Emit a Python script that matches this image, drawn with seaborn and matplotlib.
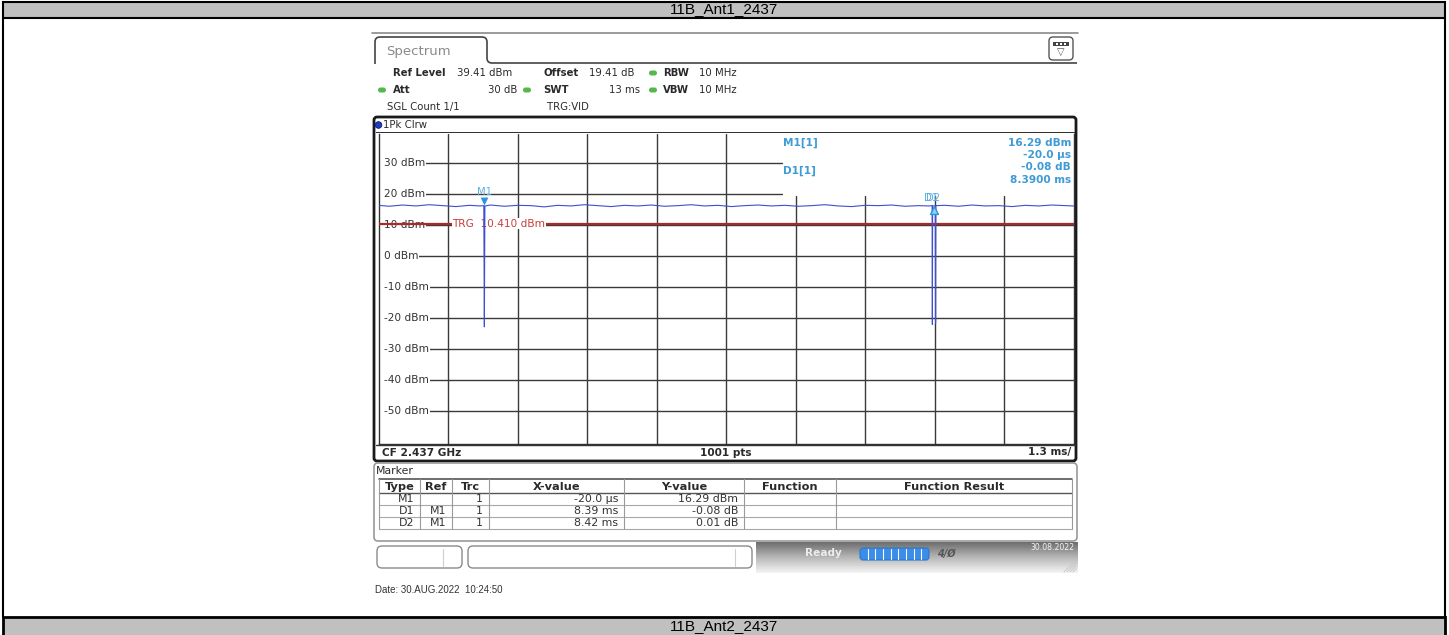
import matplotlib
matplotlib.use("Agg")
import matplotlib.pyplot as plt
import seaborn as sns
import numpy as np
from matplotlib import font_manager
from matplotlib.patches import Rectangle, FancyBboxPatch, PathPatch
from matplotlib.path import Path
from matplotlib.transforms import blended_transform_factory

sns.set_theme(style="white")
plt.rcParams['font.family'] = ['DejaVu Sans']

# ---- values ----
title_top = "11B_Ant1_2437"
title_bottom = "11B_Ant2_2437"
ref_level = 39.41          # dBm at top of grid
db_per_div = 10
sweep_start = -2.0         # ms
ms_per_div = 1.3
trg_level = 10.41
level_ticks = [30, 20, 10, 0, -10, -20, -30, -40, -50]

trace_ms = [-2.00, -1.80, -1.55, -1.30, -1.05, -0.80, -0.55, -0.30, -0.10, -0.03,
            -0.02, -0.01, 0.10, 0.35, 0.60, 0.85, 1.10, 1.35, 1.60, 1.85,
            2.10, 2.35, 2.60, 2.85, 3.10, 3.35, 3.60, 3.85, 4.10, 4.35,
            4.60, 4.85, 5.10, 5.35, 5.60, 5.85, 6.10, 6.35, 6.60, 6.85,
            7.10, 7.35, 7.60, 7.85, 8.10, 8.30, 8.355, 8.36, 8.365, 8.415,
            8.42, 8.425, 8.60, 8.85, 9.10, 9.35, 9.60, 9.85, 10.10, 10.35,
            10.60, 10.85, 11.00]
trace_dbm = [16.4, 16.1, 16.5, 16.2, 16.6, 16.3, 16.0, 16.4, 16.2, 16.3,
             -22.8, 16.2, 16.5, 16.1, 16.4, 16.3, 15.9, 16.4, 16.2, 16.6,
             16.3, 16.0, 16.4, 16.2, 16.5, 16.1, 16.3, 16.6, 16.2, 16.4,
             16.0, 16.3, 16.5, 16.2, 16.4, 16.1, 16.3, 16.6, 16.2, 16.0,
             16.4, 16.3, 16.5, 16.1, 16.3, 16.2, 16.3, -22.0, 16.2, 16.2,
             -21.6, 16.3, 16.4, 16.1, 16.5, 16.2, 16.3, 16.0, 16.4, 16.2,
             16.5, 16.3, 16.2]

marker_names = ["M1", "D1", "D2"]
marker_ms = [-0.02, 8.39, 8.42]
marker_dbm = [16.29, 16.21, 16.30]

table_cols = ["Type", "Ref", "Trc", "X-value", "Y-value", "Function", "Function Result"]
table_type = ["M1", "D1", "D2"]
table_ref = ["", "M1", "M1"]
table_trc = ["1", "1", "1"]
table_x = ["-20.0 µs", "8.39 ms", "8.42 ms"]
table_y = ["16.29 dBm", "-0.08 dB", "0.01 dB"]

# ---- layout (pixels) ----
W, H = 1449, 635
fig = plt.figure(figsize=(W / 100, H / 100), dpi=100)
fig.patch.set_facecolor("white")


def px_axes(x0, y0, x1, y1):
    return fig.add_axes([x0 / W, 1 - y1 / H, (x1 - x0) / W, (y1 - y0) / H])


bg = fig.add_axes([0, 0, 1, 1])
bg.set_xlim(0, W)
bg.set_ylim(H, 0)
bg.axis("off")

have = {f.name for f in font_manager.fontManager.ttflist}
if "Liberation Sans Narrow" in have:
    title_font, title_size = "Liberation Sans Narrow", 13
else:
    title_font, title_size = "Liberation Sans", 11
INK = "#2a2a2a"
MK = "#3d9bd6"

# outer report table
bg.add_patch(Rectangle((3, 2), 1442, 16, fc="#c0c0c0", ec="black", lw=1.5))
bg.text(724, 9.5, title_top, ha="center", va="center", fontsize=title_size,
        family=title_font, color="black")
bg.plot([3, 3], [18, 617], color="black", lw=1.5)
bg.plot([1445, 1445], [18, 617], color="black", lw=1.5)
bg.add_patch(Rectangle((3, 617), 1442, 22, fc="#c0c0c0", ec="black", lw=2))
bg.text(724, 626.5, title_bottom, ha="center", va="center", fontsize=title_size,
        family=title_font, color="black")

# screenshot: top edge, tab, icon
bg.plot([372, 1078], [32.5, 32.5], color="#8a8a8a", lw=1.2)
verts = [(375, 64), (375, 42), (375, 37), (380, 37), (482, 37), (487, 37), (487, 42),
         (487, 58), (487, 63), (492, 63), (1077, 63)]
codes = [Path.MOVETO, Path.LINETO, Path.CURVE3, Path.CURVE3, Path.LINETO, Path.CURVE3,
         Path.CURVE3, Path.LINETO, Path.CURVE3, Path.CURVE3, Path.LINETO]
bg.add_patch(PathPatch(Path(verts, codes), fc="none", ec="#444", lw=1.2))
bg.text(386, 51, "Spectrum", fontsize=9.5, color="#8a8a8a", va="center")
bg.add_patch(FancyBboxPatch((1049, 37), 24, 23, boxstyle="round,pad=0,rounding_size=4",
                            fc="white", ec="#555", lw=1))
bg.add_patch(Rectangle((1053, 42), 16, 4, fc="#444", ec="none"))
for xx in [1056, 1060, 1064]:
    bg.add_patch(Rectangle((xx, 43), 2, 2, fc="white", ec="none"))
bg.text(1061, 52, "▽", fontsize=7, ha="center", va="center", color="#555")


# header info rows
def info(x, y, s, bold=False, ha="left"):
    bg.text(x, y, s, fontsize=7.3, ha=ha, va="center", color=INK,
            fontweight="bold" if bold else "normal")


def dot(x, y):
    bg.add_patch(FancyBboxPatch((x - 4, y - 2.5), 8, 5, boxstyle="round,pad=0,rounding_size=2.5",
                                fc="#55b84a", ec="none"))


info(393, 73, "Ref Level", True)
info(457, 73, f"{ref_level:.2f} dBm")
info(543, 73, "Offset", True)
info(589, 73, "19.41 dB")
dot(653, 73)
info(663, 73, "RBW", True)
info(699, 73, "10 MHz")
dot(382, 90)
info(393, 90, "Att", True)
info(517, 90, "30 dB", ha="right")
dot(527, 90)
info(543, 90, "SWT", True)
info(640, 90, "13 ms", ha="right")
dot(653, 90)
info(663, 90, "VBW", True)
info(699, 90, "10 MHz")
info(387, 107, "SGL Count 1/1")
info(547, 107, "TRG:VID")

# diagram frame
bg.add_patch(FancyBboxPatch((374, 117), 702, 344, boxstyle="round,pad=0,rounding_size=3",
                            fc="white", ec="#1a1a1a", lw=2))
bg.add_patch(Rectangle((376, 131.5), 699, 1, fc="#333", ec="none"))
bg.add_patch(plt.Circle((378.5, 125), 3.3, fc="#1e3cc8", ec="#0a1a70", lw=0.6))
bg.text(383, 125, "1Pk Clrw", fontsize=7.3, va="center", color=INK)
bg.plot([376, 1075], [445, 445], color="#333", lw=1)
bg.text(382, 452.5, "CF 2.437 GHz", fontsize=7.6, fontweight="bold", va="center", color=INK)
bg.text(726, 452.5, "1001 pts", fontsize=7.6, fontweight="bold", va="center", ha="center", color=INK)
bg.text(1071, 452.5, f"{ms_per_div} ms/", fontsize=7.6, fontweight="bold", va="center", ha="right", color=INK)

# ---- the trace diagram ----
ax = px_axes(378.5, 134, 1073.5, 444)
ax.set_xlim(sweep_start, sweep_start + 10 * ms_per_div)
ax.set_ylim(ref_level - 10 * db_per_div, ref_level)
ax.set_xticks([])
ax.set_yticks([])
ax.grid(False)
for sp in ax.spines.values():
    sp.set_color("#333")
    sp.set_linewidth(1)
ax.spines["top"].set_visible(False)

box_left = 0.581    # marker readout area, upper right
box_bottom = 0.80
for i in range(1, 10):
    xv = sweep_start + i * ms_per_div
    frac = (xv - sweep_start) / (10 * ms_per_div)
    ax.axvline(xv, ymax=box_bottom if frac > box_left else 1, color="#3a3a3a", lw=1, zorder=1)
for lv in level_ticks:
    ax.axhline(lv, xmin=0.01, xmax=box_left if lv >= 20 else 1, color="#3a3a3a", lw=1, zorder=1)

ytrans = blended_transform_factory(ax.transAxes, ax.transData)
for lv in level_ticks:
    ax.text(0.008, lv, f"{lv} dBm", transform=ytrans, fontsize=7.6, color="#333", va="center",
            ha="left", zorder=3, bbox=dict(fc="white", ec="none", pad=0.6))

ax.axhline(trg_level, color="#b0282a", lw=1.6, zorder=4)
ax.text(0.106, trg_level, f"TRG  {trg_level:.3f} dBm", transform=ytrans, fontsize=7.6,
        color="#c8403c", va="center", ha="left", zorder=4.5,
        bbox=dict(fc="white", ec="none", pad=0.3))

sns.lineplot(x=trace_ms, y=trace_dbm, ax=ax, color="#3f4fcf", lw=0.8, zorder=5, estimator=None)

ax.scatter([marker_ms[0]], [marker_dbm[0] + 1.5], marker="v", s=32, color="#2d95dd", zorder=6, lw=0)
ax.text(marker_ms[0], marker_dbm[0] + 4.3, marker_names[0], ha="center", va="center",
        fontsize=7.2, color="#5aaee0", zorder=6)
ax.scatter([marker_ms[1]], [marker_dbm[1] - 1.3], marker="^", s=32, fc="#8fd0f5", ec="#2d95dd",
           lw=1, zorder=6)
for name, xm in zip(marker_names[1:], marker_ms[1:]):
    ax.text(xm - 0.05, marker_dbm[0] + 2.5, name, ha="center", va="center", fontsize=7.2,
            color="#5aaee0", zorder=6)

# marker readout
ov = fig.add_axes([0, 0, 1, 1])
ov.set_xlim(0, W)
ov.set_ylim(H, 0)
ov.axis("off")
ov.patch.set_alpha(0)
rd = dict(fontsize=7.6, fontweight="bold", color=MK, va="center")
ov.text(783, 143, "M1[1]", ha="left", **rd)
ov.text(1071, 143, f"{marker_dbm[0]:.2f} dBm", ha="right", **rd)
ov.text(1071, 155.5, table_x[0], ha="right", **rd)
ov.text(783, 171, "D1[1]", ha="left", **rd)
ov.text(1071, 167.5, table_y[1], ha="right", **rd)
ov.text(1071, 180, "8.3900 ms", ha="right", **rd)

# ---- marker table ----
bg.add_patch(FancyBboxPatch((374, 463), 703, 78, boxstyle="round,pad=0,rounding_size=4",
                            fc="white", ec="#9a9a9a", lw=1.2))
bg.text(376, 471, "Marker", fontsize=7.8, va="center", color=INK)
col_edges = [379, 420, 452, 489, 624, 744, 836, 1072]
row_edges = [479, 493, 505, 517, 529]
bg.plot([379, 1072], [479, 479], color="#555", lw=1.2)
bg.plot([379, 1072], [493, 493], color="#555", lw=1)
for yy in row_edges[2:]:
    bg.plot([379, 1072], [yy, yy], color="#a8a8a8", lw=0.8)
for xx in col_edges:
    bg.plot([xx, xx], [479, 529], color="#9a9a9a", lw=0.8)
for i, c in enumerate(table_cols):
    bg.text((col_edges[i] + col_edges[i + 1]) / 2, 486.5, c, ha="center", va="center",
            fontsize=8.2, fontweight="semibold", color=INK)
for r in range(3):
    yc = (row_edges[r + 1] + row_edges[r + 2]) / 2
    cells = [table_type[r], table_ref[r], table_trc[r], table_x[r], table_y[r]]
    for i, s in enumerate(cells):
        bg.text(col_edges[i + 1] - 6, yc, s, ha="right", va="center", fontsize=7.9, color="#333")

# status bar
bg.add_patch(FancyBboxPatch((377, 546), 85, 22, boxstyle="round,pad=0,rounding_size=5",
                            fc="white", ec="#8a8a8a", lw=1))
bg.plot([443, 443], [549, 566], color="#cfcfcf", lw=0.8)
bg.add_patch(FancyBboxPatch((468, 546), 284, 22, boxstyle="round,pad=0,rounding_size=5",
                            fc="white", ec="#8a8a8a", lw=1))
bg.plot([735, 735], [549, 566], color="#cfcfcf", lw=0.8)
grad = np.linspace(0, 1, 40)[:, None]
bg.imshow(grad, extent=(756, 1078, 573, 542), cmap=sns.blend_palette(["#6e6e6e", "#b8b8b8", "#f4f4f4"],
          as_cmap=True), aspect="auto", zorder=0.5)
bg.text(805, 553, "Ready", fontsize=7.6, fontweight="bold", color="#ededed", va="center")
bg.add_patch(FancyBboxPatch((860, 548), 69, 12, boxstyle="round,pad=0,rounding_size=3",
                            fc="#3b8ee8", ec="#2a78cc", lw=0.8))
for k in range(1, 9):
    bg.plot([860 + k * 7.67] * 2, [549, 559], color="white", lw=0.8)
bg.text(946, 554, "4/Ø", fontsize=7, fontweight="bold", style="italic", color="#555",
        va="center", ha="center")
bg.text(1074, 548, "30.08.2022", fontsize=5.6, color="#f6f6f6", va="center", ha="right")
for k in range(4):
    bg.plot([1064 + 3 * k, 1076], [572, 560 + 3 * k], color="#c4c4c4", lw=0.6)

bg.text(375, 590, "Date: 30.AUG.2022  10:24:50", fontsize=7, family="Liberation Sans",
        color="#333", va="center")

fig.savefig("out.png", dpi=100, facecolor="white")
